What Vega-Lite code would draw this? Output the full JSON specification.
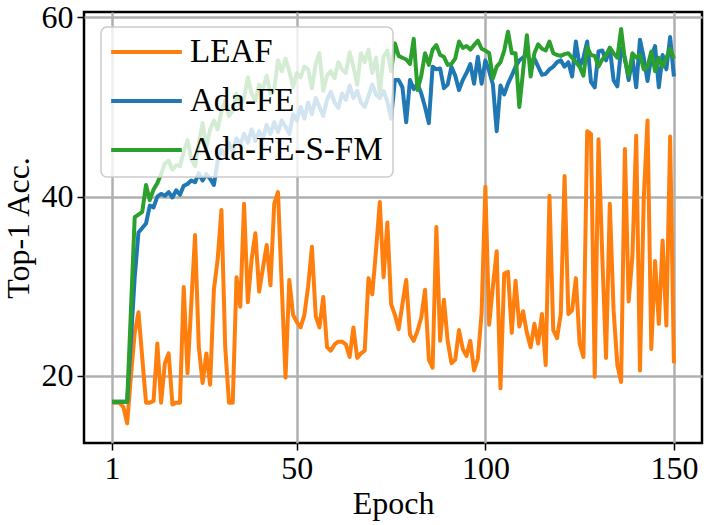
{
  "$schema": "https://vega.github.io/schema/vega-lite/v6.json",
  "width": 618,
  "height": 431,
  "autosize": "none",
  "padding": {"left": 84, "top": 12, "right": 4, "bottom": 82},
  "background": "white",
  "data": {
    "values": [
      {"epoch": 1, "LEAF": 17, "Ada-FE": 17.1, "Ada-FE-S-FM": 17.1},
      {"epoch": 2, "LEAF": 17, "Ada-FE": 17.1, "Ada-FE-S-FM": 17.1},
      {"epoch": 3, "LEAF": 17, "Ada-FE": 17.1, "Ada-FE-S-FM": 17.1},
      {"epoch": 4, "LEAF": 16.5, "Ada-FE": 17.1, "Ada-FE-S-FM": 17.1},
      {"epoch": 5, "LEAF": 14.7, "Ada-FE": 17.1, "Ada-FE-S-FM": 17.1},
      {"epoch": 6, "LEAF": 20, "Ada-FE": 24, "Ada-FE-S-FM": 27.4},
      {"epoch": 7, "LEAF": 24.8, "Ada-FE": 31, "Ada-FE-S-FM": 37.7},
      {"epoch": 8, "LEAF": 27.1, "Ada-FE": 36, "Ada-FE-S-FM": 38},
      {"epoch": 9, "LEAF": 22, "Ada-FE": 36.5, "Ada-FE-S-FM": 38.3},
      {"epoch": 10, "LEAF": 17, "Ada-FE": 37, "Ada-FE-S-FM": 41.3},
      {"epoch": 11, "LEAF": 17, "Ada-FE": 39, "Ada-FE-S-FM": 39.6},
      {"epoch": 12, "LEAF": 17.2, "Ada-FE": 38.8, "Ada-FE-S-FM": 40.8},
      {"epoch": 13, "LEAF": 23.6, "Ada-FE": 40, "Ada-FE-S-FM": 41.5},
      {"epoch": 14, "LEAF": 17, "Ada-FE": 40.3, "Ada-FE-S-FM": 42.5},
      {"epoch": 15, "LEAF": 21.4, "Ada-FE": 40.1, "Ada-FE-S-FM": 43.7},
      {"epoch": 16, "LEAF": 22.5, "Ada-FE": 40.5, "Ada-FE-S-FM": 44},
      {"epoch": 17, "LEAF": 16.8, "Ada-FE": 39.9, "Ada-FE-S-FM": 43},
      {"epoch": 18, "LEAF": 17, "Ada-FE": 40.7, "Ada-FE-S-FM": 43.5},
      {"epoch": 19, "LEAF": 17, "Ada-FE": 40.2, "Ada-FE-S-FM": 43.4},
      {"epoch": 20, "LEAF": 29.9, "Ada-FE": 41.2, "Ada-FE-S-FM": 45},
      {"epoch": 21, "LEAF": 20.3, "Ada-FE": 41.4, "Ada-FE-S-FM": 46.3},
      {"epoch": 22, "LEAF": 28, "Ada-FE": 41.8, "Ada-FE-S-FM": 44.2},
      {"epoch": 23, "LEAF": 35.7, "Ada-FE": 41.6, "Ada-FE-S-FM": 43.4},
      {"epoch": 24, "LEAF": 23.2, "Ada-FE": 42.6, "Ada-FE-S-FM": 46},
      {"epoch": 25, "LEAF": 19.2, "Ada-FE": 41.8, "Ada-FE-S-FM": 48.2},
      {"epoch": 26, "LEAF": 22.5, "Ada-FE": 42.5, "Ada-FE-S-FM": 45.5},
      {"epoch": 27, "LEAF": 19, "Ada-FE": 42, "Ada-FE-S-FM": 47.5},
      {"epoch": 28, "LEAF": 29.6, "Ada-FE": 41.3, "Ada-FE-S-FM": 48.5},
      {"epoch": 29, "LEAF": 33, "Ada-FE": 44, "Ada-FE-S-FM": 47.5},
      {"epoch": 30, "LEAF": 38.5, "Ada-FE": 45.2, "Ada-FE-S-FM": 49.5},
      {"epoch": 31, "LEAF": 23.2, "Ada-FE": 44.5, "Ada-FE-S-FM": 50.7},
      {"epoch": 32, "LEAF": 17, "Ada-FE": 46, "Ada-FE-S-FM": 49},
      {"epoch": 33, "LEAF": 17, "Ada-FE": 45, "Ada-FE-S-FM": 49.6},
      {"epoch": 34, "LEAF": 31, "Ada-FE": 46.5, "Ada-FE-S-FM": 51.5},
      {"epoch": 35, "LEAF": 27.7, "Ada-FE": 45.8, "Ada-FE-S-FM": 50.2},
      {"epoch": 36, "LEAF": 39.2, "Ada-FE": 47, "Ada-FE-S-FM": 51},
      {"epoch": 37, "LEAF": 28.2, "Ada-FE": 46, "Ada-FE-S-FM": 53.3},
      {"epoch": 38, "LEAF": 33, "Ada-FE": 47.5, "Ada-FE-S-FM": 51.5},
      {"epoch": 39, "LEAF": 35.9, "Ada-FE": 46.2, "Ada-FE-S-FM": 50.7},
      {"epoch": 40, "LEAF": 29.4, "Ada-FE": 47.3, "Ada-FE-S-FM": 52.5},
      {"epoch": 41, "LEAF": 32, "Ada-FE": 46.5, "Ada-FE-S-FM": 52},
      {"epoch": 42, "LEAF": 34.6, "Ada-FE": 48, "Ada-FE-S-FM": 53.5},
      {"epoch": 43, "LEAF": 30.1, "Ada-FE": 47, "Ada-FE-S-FM": 51.5},
      {"epoch": 44, "LEAF": 39.2, "Ada-FE": 48.3, "Ada-FE-S-FM": 52},
      {"epoch": 45, "LEAF": 40.5, "Ada-FE": 47.2, "Ada-FE-S-FM": 55.2},
      {"epoch": 46, "LEAF": 30, "Ada-FE": 48.5, "Ada-FE-S-FM": 54},
      {"epoch": 47, "LEAF": 19.8, "Ada-FE": 47.8, "Ada-FE-S-FM": 55.4},
      {"epoch": 48, "LEAF": 30.7, "Ada-FE": 47, "Ada-FE-S-FM": 54},
      {"epoch": 49, "LEAF": 26.8, "Ada-FE": 49.2, "Ada-FE-S-FM": 52.2},
      {"epoch": 50, "LEAF": 26, "Ada-FE": 48.5, "Ada-FE-S-FM": 53.8},
      {"epoch": 51, "LEAF": 25.4, "Ada-FE": 50, "Ada-FE-S-FM": 53.3},
      {"epoch": 52, "LEAF": 26.8, "Ada-FE": 48.7, "Ada-FE-S-FM": 54.5},
      {"epoch": 53, "LEAF": 30, "Ada-FE": 50.5, "Ada-FE-S-FM": 54.2},
      {"epoch": 54, "LEAF": 34.4, "Ada-FE": 49.2, "Ada-FE-S-FM": 52.1},
      {"epoch": 55, "LEAF": 26.7, "Ada-FE": 51, "Ada-FE-S-FM": 54.8},
      {"epoch": 56, "LEAF": 25.4, "Ada-FE": 50, "Ada-FE-S-FM": 56},
      {"epoch": 57, "LEAF": 28.8, "Ada-FE": 49, "Ada-FE-S-FM": 51.8},
      {"epoch": 58, "LEAF": 23.2, "Ada-FE": 50.8, "Ada-FE-S-FM": 53.5},
      {"epoch": 59, "LEAF": 22.8, "Ada-FE": 51.7, "Ada-FE-S-FM": 54},
      {"epoch": 60, "LEAF": 23.5, "Ada-FE": 50.5, "Ada-FE-S-FM": 53.2},
      {"epoch": 61, "LEAF": 23.8, "Ada-FE": 49.9, "Ada-FE-S-FM": 55},
      {"epoch": 62, "LEAF": 23.8, "Ada-FE": 51.5, "Ada-FE-S-FM": 54.2},
      {"epoch": 63, "LEAF": 23.5, "Ada-FE": 50.8, "Ada-FE-S-FM": 53.8},
      {"epoch": 64, "LEAF": 22.1, "Ada-FE": 52.4, "Ada-FE-S-FM": 56.1},
      {"epoch": 65, "LEAF": 25.4, "Ada-FE": 51, "Ada-FE-S-FM": 54.5},
      {"epoch": 66, "LEAF": 22, "Ada-FE": 51.8, "Ada-FE-S-FM": 52.5},
      {"epoch": 67, "LEAF": 22.5, "Ada-FE": 50.5, "Ada-FE-S-FM": 56},
      {"epoch": 68, "LEAF": 22.8, "Ada-FE": 50, "Ada-FE-S-FM": 55},
      {"epoch": 69, "LEAF": 30.9, "Ada-FE": 51.2, "Ada-FE-S-FM": 56.4},
      {"epoch": 70, "LEAF": 29.1, "Ada-FE": 52.5, "Ada-FE-S-FM": 53.8},
      {"epoch": 71, "LEAF": 34, "Ada-FE": 51.4, "Ada-FE-S-FM": 55.5},
      {"epoch": 72, "LEAF": 39.4, "Ada-FE": 51, "Ada-FE-S-FM": 51.6},
      {"epoch": 73, "LEAF": 31, "Ada-FE": 51.8, "Ada-FE-S-FM": 55.6},
      {"epoch": 74, "LEAF": 37.1, "Ada-FE": 50.6, "Ada-FE-S-FM": 56.3},
      {"epoch": 75, "LEAF": 28, "Ada-FE": 48.7, "Ada-FE-S-FM": 54},
      {"epoch": 76, "LEAF": 26.8, "Ada-FE": 53, "Ada-FE-S-FM": 57.1},
      {"epoch": 77, "LEAF": 25.2, "Ada-FE": 53, "Ada-FE-S-FM": 55.7},
      {"epoch": 78, "LEAF": 28, "Ada-FE": 52.2, "Ada-FE-S-FM": 55.5},
      {"epoch": 79, "LEAF": 30.7, "Ada-FE": 48.3, "Ada-FE-S-FM": 55.3},
      {"epoch": 80, "LEAF": 24.6, "Ada-FE": 53, "Ada-FE-S-FM": 54.8},
      {"epoch": 81, "LEAF": 23.9, "Ada-FE": 52, "Ada-FE-S-FM": 57.6},
      {"epoch": 82, "LEAF": 25, "Ada-FE": 52.6, "Ada-FE-S-FM": 51.9},
      {"epoch": 83, "LEAF": 26.5, "Ada-FE": 51.5, "Ada-FE-S-FM": 53.5},
      {"epoch": 84, "LEAF": 29.6, "Ada-FE": 50, "Ada-FE-S-FM": 56},
      {"epoch": 85, "LEAF": 21.8, "Ada-FE": 48.2, "Ada-FE-S-FM": 54.7},
      {"epoch": 86, "LEAF": 20.9, "Ada-FE": 54.5, "Ada-FE-S-FM": 56.4},
      {"epoch": 87, "LEAF": 36.6, "Ada-FE": 54.2, "Ada-FE-S-FM": 56.9},
      {"epoch": 88, "LEAF": 23.9, "Ada-FE": 54.3, "Ada-FE-S-FM": 55.8},
      {"epoch": 89, "LEAF": 28.5, "Ada-FE": 52.1, "Ada-FE-S-FM": 55.6},
      {"epoch": 90, "LEAF": 23.9, "Ada-FE": 52.5, "Ada-FE-S-FM": 54.7},
      {"epoch": 91, "LEAF": 21.4, "Ada-FE": 54.5, "Ada-FE-S-FM": 54.8},
      {"epoch": 92, "LEAF": 21.8, "Ada-FE": 53.5, "Ada-FE-S-FM": 55.4},
      {"epoch": 93, "LEAF": 25.1, "Ada-FE": 51.9, "Ada-FE-S-FM": 57.3},
      {"epoch": 94, "LEAF": 23, "Ada-FE": 53, "Ada-FE-S-FM": 56.6},
      {"epoch": 95, "LEAF": 22.2, "Ada-FE": 53.8, "Ada-FE-S-FM": 56.8},
      {"epoch": 96, "LEAF": 23.9, "Ada-FE": 54.8, "Ada-FE-S-FM": 56.4},
      {"epoch": 97, "LEAF": 20.6, "Ada-FE": 52.6, "Ada-FE-S-FM": 56.9},
      {"epoch": 98, "LEAF": 21.9, "Ada-FE": 55.6, "Ada-FE-S-FM": 57.4},
      {"epoch": 99, "LEAF": 27, "Ada-FE": 52.6, "Ada-FE-S-FM": 56.5},
      {"epoch": 100, "LEAF": 41.1, "Ada-FE": 55.2, "Ada-FE-S-FM": 56.3},
      {"epoch": 101, "LEAF": 25.7, "Ada-FE": 54, "Ada-FE-S-FM": 56},
      {"epoch": 102, "LEAF": 30, "Ada-FE": 52.5, "Ada-FE-S-FM": 53.2},
      {"epoch": 103, "LEAF": 33.9, "Ada-FE": 47.3, "Ada-FE-S-FM": 54.5},
      {"epoch": 104, "LEAF": 18.6, "Ada-FE": 52.4, "Ada-FE-S-FM": 55},
      {"epoch": 105, "LEAF": 31.4, "Ada-FE": 51.4, "Ada-FE-S-FM": 56.3},
      {"epoch": 106, "LEAF": 31.6, "Ada-FE": 52.6, "Ada-FE-S-FM": 58.4},
      {"epoch": 107, "LEAF": 24.8, "Ada-FE": 53.5, "Ada-FE-S-FM": 56},
      {"epoch": 108, "LEAF": 30.6, "Ada-FE": 54.5, "Ada-FE-S-FM": 56},
      {"epoch": 109, "LEAF": 25.5, "Ada-FE": 55.2, "Ada-FE-S-FM": 50},
      {"epoch": 110, "LEAF": 27.2, "Ada-FE": 55.5, "Ada-FE-S-FM": 54},
      {"epoch": 111, "LEAF": 24.8, "Ada-FE": 56, "Ada-FE-S-FM": 58},
      {"epoch": 112, "LEAF": 23.2, "Ada-FE": 55, "Ada-FE-S-FM": 53.4},
      {"epoch": 113, "LEAF": 25.8, "Ada-FE": 55.4, "Ada-FE-S-FM": 56},
      {"epoch": 114, "LEAF": 23.6, "Ada-FE": 54.5, "Ada-FE-S-FM": 57},
      {"epoch": 115, "LEAF": 26.9, "Ada-FE": 53.6, "Ada-FE-S-FM": 56.5},
      {"epoch": 116, "LEAF": 21.2, "Ada-FE": 53.7, "Ada-FE-S-FM": 56.3},
      {"epoch": 117, "LEAF": 40.1, "Ada-FE": 54.2, "Ada-FE-S-FM": 57.3},
      {"epoch": 118, "LEAF": 25.1, "Ada-FE": 54.5, "Ada-FE-S-FM": 56},
      {"epoch": 119, "LEAF": 24.2, "Ada-FE": 55, "Ada-FE-S-FM": 55.8},
      {"epoch": 120, "LEAF": 26.9, "Ada-FE": 55.2, "Ada-FE-S-FM": 55.7},
      {"epoch": 121, "LEAF": 42.3, "Ada-FE": 54.5, "Ada-FE-S-FM": 55.9},
      {"epoch": 122, "LEAF": 26.9, "Ada-FE": 55, "Ada-FE-S-FM": 56},
      {"epoch": 123, "LEAF": 27.3, "Ada-FE": 53.4, "Ada-FE-S-FM": 55.5},
      {"epoch": 124, "LEAF": 30.9, "Ada-FE": 57.3, "Ada-FE-S-FM": 55},
      {"epoch": 125, "LEAF": 23.6, "Ada-FE": 54.5, "Ada-FE-S-FM": 54.5},
      {"epoch": 126, "LEAF": 22.1, "Ada-FE": 55.5, "Ada-FE-S-FM": 53.5},
      {"epoch": 127, "LEAF": 47.3, "Ada-FE": 57.3, "Ada-FE-S-FM": 56.7},
      {"epoch": 128, "LEAF": 47, "Ada-FE": 52.8, "Ada-FE-S-FM": 55.8},
      {"epoch": 129, "LEAF": 19.9, "Ada-FE": 52.2, "Ada-FE-S-FM": 55.7},
      {"epoch": 130, "LEAF": 46.4, "Ada-FE": 56.2, "Ada-FE-S-FM": 54.5},
      {"epoch": 131, "LEAF": 33.4, "Ada-FE": 56.3, "Ada-FE-S-FM": 55.3},
      {"epoch": 132, "LEAF": 22, "Ada-FE": 55.2, "Ada-FE-S-FM": 55.8},
      {"epoch": 133, "LEAF": 39.2, "Ada-FE": 56.6, "Ada-FE-S-FM": 56.6},
      {"epoch": 134, "LEAF": 27.3, "Ada-FE": 53, "Ada-FE-S-FM": 56},
      {"epoch": 135, "LEAF": 21.2, "Ada-FE": 52.3, "Ada-FE-S-FM": 55.5},
      {"epoch": 136, "LEAF": 19.3, "Ada-FE": 56.5, "Ada-FE-S-FM": 58.7},
      {"epoch": 137, "LEAF": 45.3, "Ada-FE": 55.5, "Ada-FE-S-FM": 55.2},
      {"epoch": 138, "LEAF": 28.3, "Ada-FE": 53, "Ada-FE-S-FM": 53.5},
      {"epoch": 139, "LEAF": 33.4, "Ada-FE": 55.5, "Ada-FE-S-FM": 56},
      {"epoch": 140, "LEAF": 46.8, "Ada-FE": 52.2, "Ada-FE-S-FM": 55.5},
      {"epoch": 141, "LEAF": 20.6, "Ada-FE": 57.5, "Ada-FE-S-FM": 55.8},
      {"epoch": 142, "LEAF": 39.8, "Ada-FE": 55.5, "Ada-FE-S-FM": 54.2},
      {"epoch": 143, "LEAF": 48.5, "Ada-FE": 52.9, "Ada-FE-S-FM": 54.5},
      {"epoch": 144, "LEAF": 23, "Ada-FE": 55.6, "Ada-FE-S-FM": 56.2},
      {"epoch": 145, "LEAF": 32.8, "Ada-FE": 56.8, "Ada-FE-S-FM": 54},
      {"epoch": 146, "LEAF": 25.8, "Ada-FE": 52.2, "Ada-FE-S-FM": 55.5},
      {"epoch": 147, "LEAF": 35.1, "Ada-FE": 55.8, "Ada-FE-S-FM": 54.5},
      {"epoch": 148, "LEAF": 25.6, "Ada-FE": 54.2, "Ada-FE-S-FM": 55.5},
      {"epoch": 149, "LEAF": 46.7, "Ada-FE": 57.8, "Ada-FE-S-FM": 56.5},
      {"epoch": 150, "LEAF": 21.4, "Ada-FE": 53.4, "Ada-FE-S-FM": 55.4}
    ]
  },
  "transform": [
    {"fold": ["LEAF", "Ada-FE", "Ada-FE-S-FM"], "as": ["series", "acc"]}
  ],
  "encoding": {
    "x": {
      "field": "epoch",
      "type": "quantitative",
      "title": "Epoch",
      "scale": {"domain": [-6.45, 157.45], "nice": false, "zero": false},
      "axis": {"values": [1, 50, 100, 150], "format": "d", "titlePadding": 4}
    },
    "y": {
      "field": "acc",
      "type": "quantitative",
      "title": "Top-1 Acc.",
      "scale": {"domain": [12.5, 60.6], "nice": false, "zero": false},
      "axis": {"values": [20, 40, 60], "titlePadding": 6, "labelPadding": 4}
    },
    "color": {
      "field": "series",
      "type": "nominal",
      "scale": {
        "domain": ["LEAF", "Ada-FE", "Ada-FE-S-FM"],
        "range": ["#ff7f0e", "#1f77b4", "#2ca02c"]
      },
      "legend": {"title": null}
    }
  },
  "layer": [
    {
      "transform": [{"filter": "datum.series == 'LEAF'"}],
      "mark": {"type": "line", "strokeWidth": 4, "strokeJoin": "round"}
    },
    {
      "transform": [{"filter": "datum.series == 'Ada-FE'"}],
      "mark": {"type": "line", "strokeWidth": 4, "strokeJoin": "round"}
    },
    {
      "transform": [{"filter": "datum.series == 'Ada-FE-S-FM'"}],
      "mark": {"type": "line", "strokeWidth": 4, "strokeJoin": "round"}
    }
  ],
  "config": {
    "font": "Liberation Serif",
    "view": {"stroke": "black", "strokeWidth": 2.5},
    "axis": {
      "domain": false,
      "grid": true,
      "gridColor": "#b0b0b0",
      "gridWidth": 2.5,
      "ticks": true,
      "tickColor": "black",
      "tickSize": 7,
      "tickWidth": 1.5,
      "labelFont": "Liberation Serif",
      "labelFontSize": 32,
      "labelColor": "black",
      "labelPadding": 3,
      "titleFont": "Liberation Serif",
      "titleFontSize": 32,
      "titleFontWeight": "normal",
      "titleColor": "black"
    },
    "legend": {
      "orient": "none",
      "legendX": 17,
      "legendY": 15,
      "padding": 10,
      "clipHeight": 30,
      "rowPadding": 16,
      "symbolType": "stroke",
      "symbolSize": 5000,
      "symbolStrokeWidth": 4,
      "symbolOffset": -2,
      "labelFont": "Liberation Serif",
      "labelFontSize": 33,
      "labelColor": "black",
      "labelOffset": 6,
      "labelLimit": 400,
      "fillColor": "rgba(255,255,255,0.8)",
      "strokeColor": "#cccccc",
      "strokeWidth": 1.5,
      "cornerRadius": 6
    }
  }
}
